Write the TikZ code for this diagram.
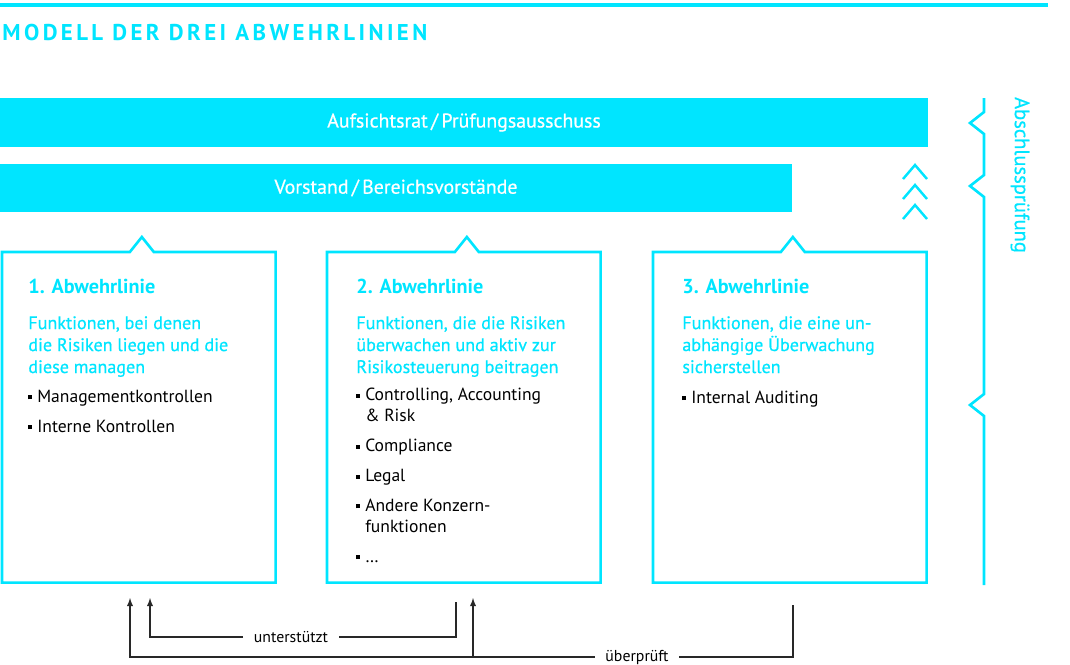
\documentclass[tikz,border=0pt]{standalone}
\usepackage{fontspec}
\setmainfont{PT Sans}

\definecolor{abwehr}{RGB}{0,229,255}
\definecolor{pfeilgrau}{RGB}{40,40,40}
\newcommand{\pkt}{\makebox[5.1pt][l]{\rule[1.6pt]{2.3pt}{2.3pt}}}
\newcommand{\einr}{\hspace*{5.1pt}}
\newcommand{\halbfett}{\addfontfeature{FakeBold=0.6}}

\begin{document}
\begin{tikzpicture}[x=0.02cm, y=-0.02cm]
 \tikzstyle{balken}=[fill=abwehr, text=white, inner sep=0pt, font=\fontsize{11.3}{13}\selectfont\halbfett]
 \tikzstyle{rahmen}=[abwehr, line width=1.5pt]
 \tikzstyle{kasten}=[rectangle, minimum width=5.46cm, minimum height=6.6cm, anchor=north west, inner sep=0pt]
 \tikzstyle{titel}=[anchor=base west, inner sep=0pt, text=abwehr, font=\fontsize{11.5}{13}\selectfont\bfseries]
 \tikzstyle{beschr}=[anchor=base west, inner sep=0pt, align=left, text=abwehr, font=\fontsize{10.3}{12.5}\selectfont\halbfett]
 \tikzstyle{liste}=[anchor=base west, inner sep=0pt, align=left, font=\fontsize{10}{11.9}\selectfont]
 \tikzstyle{linie}=[pfeilgrau, line width=0.6pt]
 \tikzstyle{pfeil}=[->, >=latex, pfeilgrau, line width=0.6pt]
 \tikzstyle{marke}=[inner xsep=6pt, inner ysep=1pt, font=\fontsize{9}{10}\selectfont]
 %
 \useasboundingbox (0,0) rectangle (1070,664);
 \draw[abwehr, line width=2.3pt] (0,5) -- (1048,5);
 \node[anchor=west, inner sep=0pt, text=abwehr, font=\fontsize{13}{15}\selectfont\bfseries\addfontfeature{LetterSpace=15}] (kopf) at (2,32) {MODELL DER DREI ABWEHRLINIEN};
 %
 \node[balken, minimum width=18.56cm, minimum height=0.98cm] (AR) at (464,122.5) {Aufsichtsrat\,/\,Prüfungsausschuss};
 \node[balken, minimum width=15.84cm, minimum height=0.96cm] (VS) at (396,188) {Vorstand\,/\,Bereichsvorstände};
 %
 \foreach \y in {165,185,205}
   \draw[rahmen, line width=1.4pt] (903,\y+14) -- (915,\y) -- (927,\y+14);
 %
 \draw[rahmen] (984,98) -- (984,112) -- (970,123) -- (984,134) -- (984,175) -- (970,186) -- (984,197)
   -- (984,394) -- (970,405) -- (984,416) -- (984,585);
 \node[rotate=-90, inner sep=0pt, text=abwehr, font=\fontsize{11.7}{13}\selectfont\halbfett] (AP) at (1020,175) {Abschlussprüfung};
 %
 \node[kasten] (L1) at (2,252) {};
 \node[kasten] (L2) at (327,252) {};
 \node[kasten] (L3) at (653,252) {};
 \foreach \b in {L1,L2,L3}
   \draw[rahmen] (\b.north west) -- ([xshift=-0.18cm]\b.north) -- ++(12,-15) -- ++(12,15)
     -- (\b.north east) -- (\b.south east) -- (\b.south west) -- cycle;
 % base = letzte Zeile
 \node[titel] (T1) at (28,293) {1. Abwehrlinie};
 \node[beschr] (D1) at (28,373) {Funktionen, bei denen\\die Risiken liegen und die\\diese managen};
 \node[liste] (K1) at (28,432) {\pkt Managementkontrollen\\[5.1pt]\pkt Interne Kontrollen};
 %
 \node[titel] (T2) at (356,293) {2. Abwehrlinie};
 \node[beschr] (D2) at (356,373) {Funktionen, die die Risiken\\überwachen und aktiv zur\\Risikosteuerung beitragen};
 \node[liste] (K2) at (356,562) {\pkt Controlling, Accounting\\\einr\& Risk\\[5.1pt]\pkt Compliance\\[5.1pt]\pkt Legal\\[5.1pt]\pkt Andere Konzern-\\\einr funktionen\\[5.1pt]\pkt …};
 %
 \node[titel] (T3) at (682,293) {3. Abwehrlinie};
 \node[beschr] (D3) at (682,373) {Funktionen, die eine un-\\abhängige Überwachung\\sicherstellen};
 \node[liste] (K3) at (682,403) {\pkt Internal Auditing};
 %%
 \node[marke] (unt) at (291,637) {unterstützt};
 \node[marke] (ueb) at (637,657) {überprüft};
 \coordinate (u1) at (150,598);
 \coordinate (u2) at (456,602);
 \coordinate (p1) at (130,598);
 \coordinate (p2) at (473,598);
 \coordinate (p3) at (793,605);
 \draw[linie] (u2) |- (unt.east);
 \draw[pfeil] (unt.west) -| (u1);
 \draw[linie] (p3) |- (ueb.east);
 \draw[pfeil] (ueb.west) -| (p1);
 \draw[pfeil] (p2 |- ueb.west) -- (p2);
\end{tikzpicture}
\end{document}
